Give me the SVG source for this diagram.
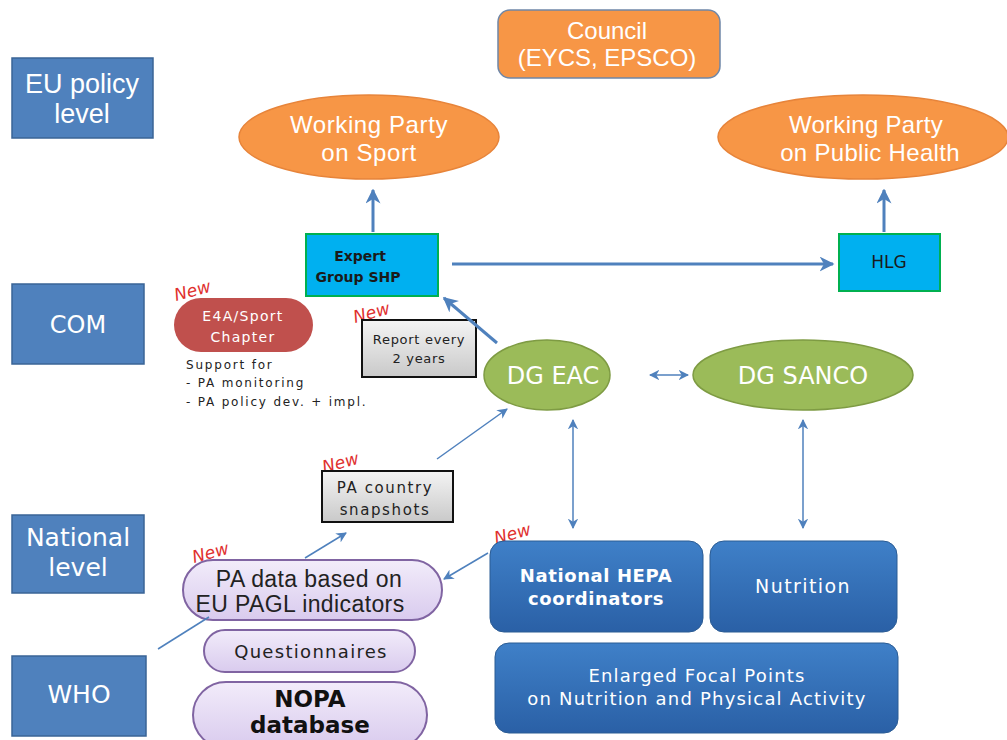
<svg xmlns="http://www.w3.org/2000/svg" width="1007" height="740" viewBox="0 0 1007 740">
<defs>
<style>
.lvl{fill:#4F81BD;stroke:#3A6496;stroke-width:1.5}
.lvlt{font-family:"Liberation Sans",Arial,sans-serif;fill:#fff;text-anchor:middle}
.ver{font-family:"DejaVu Sans",Verdana,sans-serif;text-anchor:middle}
.lib{font-family:"Liberation Sans",Arial,sans-serif;text-anchor:middle}
.org{fill:#F79646;stroke:#E7843A;stroke-width:1.5}
.cyan{fill:#00B0F0;stroke:#00B050;stroke-width:2}
.grn{fill:#9BBB59;stroke:#7E9B43;stroke-width:1.5}
.dblue{fill:url(#gb);stroke:#2B5C94;stroke-width:1}
.lav{fill:url(#gl);stroke:#8064A2;stroke-width:2}
.gray{fill:url(#gg);stroke:#111;stroke-width:2}
.new{font-family:"DejaVu Sans",Verdana,sans-serif;font-size:17px;fill:#E0302E;font-style:italic}
.ln{stroke:#4F81BD;fill:none}
</style>
<linearGradient id="gb" x1="0" y1="0" x2="0" y2="1"><stop offset="0" stop-color="#3F80C8"/><stop offset="1" stop-color="#2A60A6"/></linearGradient>
<linearGradient id="gl" x1="0" y1="0" x2="0" y2="1"><stop offset="0" stop-color="#F2ECFA"/><stop offset="1" stop-color="#D9CBEE"/></linearGradient>
<linearGradient id="gg" x1="0" y1="0" x2="0" y2="1"><stop offset="0" stop-color="#F4F4F4"/><stop offset="1" stop-color="#C9C9C9"/></linearGradient>
<marker id="ah" viewBox="0 0 10 10" refX="9" refY="5" markerWidth="5" markerHeight="5" orient="auto-start-reverse" markerUnits="strokeWidth"><path d="M0,0 L10,5 L0,10 L3,5 z" fill="#4F81BD"/></marker>
<marker id="ahs" viewBox="0 0 10 10" refX="9" refY="5" markerWidth="7" markerHeight="7" orient="auto-start-reverse" markerUnits="strokeWidth"><path d="M0,0 L10,5 L0,10 L3,5 z" fill="#4F81BD"/></marker>
</defs>
<rect width="1007" height="740" fill="#fff"/>

<g id="level-eu"><rect class="lvl" x="12" y="58" width="141" height="80"/><text class="lvlt" font-size="27"><tspan x="82" y="93">EU policy</tspan><tspan x="82" y="123">level</tspan></text></g>
<g id="level-com"><rect class="lvl" x="12" y="284" width="132" height="80"/><text class="ver" fill="#fff" font-size="24" x="78" y="333">COM</text></g>
<g id="level-national"><rect class="lvl" x="12" y="515" width="132" height="78"/><text class="ver" fill="#fff" font-size="25"><tspan x="78" y="546">National</tspan><tspan x="78" y="576">level</tspan></text></g>
<g id="level-who"><rect class="lvl" x="12" y="656" width="134" height="80"/><text class="ver" fill="#fff" font-size="25" x="79" y="703">WHO</text></g>

<g id="council"><rect x="498" y="10" width="222" height="68" rx="12" fill="#F79646" stroke="#6F87A8" stroke-width="1.5"/><text class="lib" fill="#fff" font-size="24"><tspan x="607" y="39">Council</tspan><tspan x="607" y="66">(EYCS, EPSCO)</tspan></text></g>
<g id="wp-sport"><ellipse class="org" cx="369" cy="137" rx="130" ry="42"/><text class="lib" fill="#fff" font-size="24" letter-spacing="0.6"><tspan x="369" y="133">Working Party</tspan><tspan x="369" y="161">on Sport</tspan></text></g>
<g id="wp-health"><ellipse class="org" cx="863" cy="137" rx="145" ry="42"/><text class="lib" fill="#fff" font-size="24" letter-spacing="0.3"><tspan x="866" y="133">Working Party</tspan><tspan x="870" y="161">on Public Health</tspan></text></g>

<g id="expert-group"><rect class="cyan" x="306" y="234" width="132" height="62"/><text class="ver" fill="#1a1a1a" font-size="14" font-weight="bold"><tspan x="360" y="261">Expert</tspan><tspan x="358" y="282">Group SHP</tspan></text></g>
<g id="hlg"><rect class="cyan" x="839" y="234" width="101" height="57"/><text class="ver" fill="#1a1a1a" font-size="17" x="889" y="268">HLG</text></g>

<g id="e4a"><text class="new" transform="translate(176,301) rotate(-15)">New</text><rect x="174" y="298" width="139" height="54" rx="27" fill="#C0504D"/><text class="ver" fill="#fff" font-size="14" letter-spacing="1.3"><tspan x="243" y="321">E4A/Sport</tspan><tspan x="243" y="342">Chapter</tspan></text>
<text font-family="'DejaVu Sans',Verdana,sans-serif" font-size="12" letter-spacing="1.8" fill="#222"><tspan x="186" y="369">Support  for</tspan><tspan x="186" y="387">- PA monitoring</tspan><tspan x="186" y="406">- PA policy dev. + impl.</tspan></text></g>

<g id="report"><text class="new" transform="translate(355,323) rotate(-15)">New</text><rect class="gray" x="362" y="320" width="114" height="57"/><text class="ver" fill="#222" font-size="13" letter-spacing="0.7"><tspan x="419" y="344">Report every</tspan><tspan x="419" y="363">2 years</tspan></text></g>

<g id="dg-eac"><ellipse class="grn" cx="547" cy="375" rx="63" ry="35"/><text class="ver" fill="#fff" font-size="24" x="553" y="384">DG EAC</text></g>
<g id="dg-sanco"><ellipse class="grn" cx="803" cy="375" rx="110" ry="35"/><text class="ver" fill="#fff" font-size="24" x="803" y="384">DG SANCO</text></g>

<g id="snapshots"><text class="new" transform="translate(324,473) rotate(-15)">New</text><rect class="gray" x="322" y="471" width="131" height="51"/><text class="ver" fill="#222" font-size="15" letter-spacing="1.6"><tspan x="385" y="493">PA country</tspan><tspan x="385" y="515">snapshots</tspan></text></g>

<g id="pa-data"><rect class="lav" x="183" y="560" width="259" height="60" rx="30"/><text class="new" transform="translate(194,563) rotate(-15)">New</text><text class="lib" fill="#222" font-size="23" letter-spacing="0.4"><tspan x="309" y="587">PA data based on</tspan><tspan x="300" y="612">EU PAGL indicators</tspan></text></g>
<g id="questionnaires"><rect class="lav" x="204" y="630" width="211" height="42" rx="21"/><text class="ver" fill="#222" font-size="18" letter-spacing="1.3" x="311" y="658">Questionnaires</text></g>
<g id="nopa"><rect class="lav" x="193" y="682" width="234" height="66" rx="33"/><text class="ver" fill="#111" font-size="23" font-weight="bold"><tspan x="310" y="707">NOPA</tspan><tspan x="310" y="733">database</tspan></text></g>

<g id="hepa"><text class="new" transform="translate(496,544) rotate(-15)">New</text><rect class="dblue" x="490" y="541" width="213" height="91" rx="14"/><text class="ver" fill="#fff" font-size="18" font-weight="bold" letter-spacing="0.6"><tspan x="596" y="582">National  HEPA</tspan><tspan x="596" y="605">coordinators</tspan></text></g>
<g id="nutrition"><rect class="dblue" x="710" y="541" width="187" height="91" rx="14"/><text class="ver" fill="#fff" font-size="19" letter-spacing="1.4" x="803" y="593">Nutrition</text></g>
<g id="focal"><rect class="dblue" x="495" y="643" width="403" height="90" rx="14"/><text class="ver" fill="#fff" font-size="18" letter-spacing="1.2"><tspan x="697" y="682">Enlarged Focal Points</tspan><tspan x="697" y="705">on Nutrition and Physical Activity</tspan></text></g>

<g id="connectors">
<line class="ln" stroke-width="3" x1="373" y1="232" x2="373" y2="190" marker-end="url(#ah)"/>
<line class="ln" stroke-width="3" x1="884" y1="232" x2="884" y2="190" marker-end="url(#ah)"/>
<line class="ln" stroke-width="3" x1="452" y1="264" x2="833" y2="264" marker-end="url(#ah)"/>
<line class="ln" stroke-width="3" x1="497" y1="343" x2="444" y2="298" marker-end="url(#ah)"/>
<line class="ln" stroke-width="1.5" x1="650" y1="375" x2="688" y2="375" marker-start="url(#ahs)" marker-end="url(#ahs)"/>
<line class="ln" stroke-width="1.5" x1="573" y1="420" x2="573" y2="528" marker-start="url(#ahs)" marker-end="url(#ahs)"/>
<line class="ln" stroke-width="1.5" x1="803" y1="420" x2="803" y2="528" marker-start="url(#ahs)" marker-end="url(#ahs)"/>
<line class="ln" stroke-width="1.5" x1="437" y1="459" x2="507" y2="409" marker-end="url(#ahs)"/>
<line class="ln" stroke-width="1.5" x1="305" y1="558" x2="346" y2="533" marker-end="url(#ahs)"/>
<line class="ln" stroke-width="1.5" x1="488" y1="553" x2="444" y2="579" marker-end="url(#ahs)"/>
<line class="ln" stroke-width="1.5" x1="158" y1="649" x2="209" y2="617"/>
</g>
</svg>
